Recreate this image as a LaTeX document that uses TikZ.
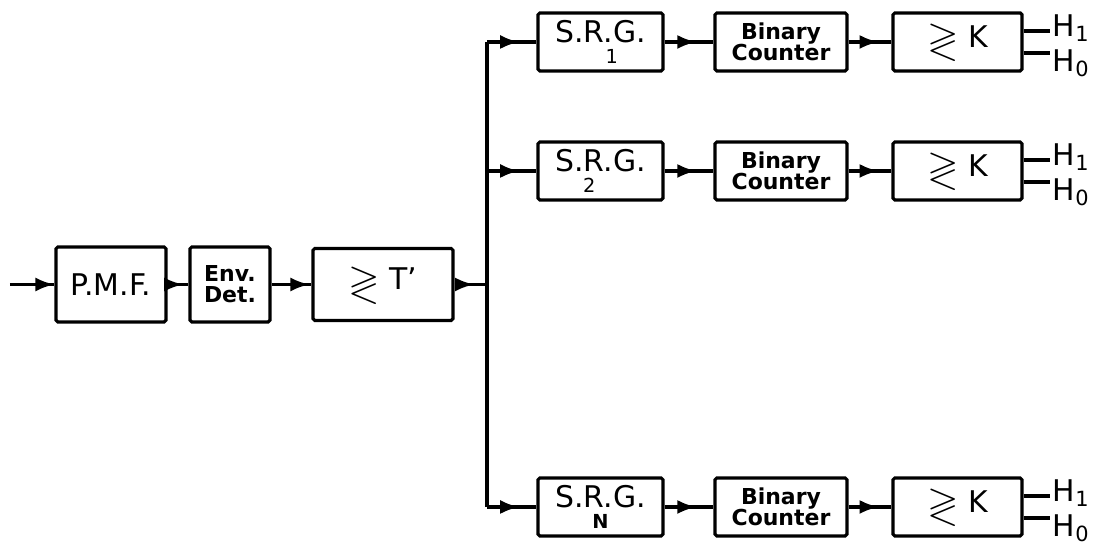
\documentclass[tikz,border=0pt]{standalone}
\usepackage{amssymb}
\usepackage{fontspec}
\setmainfont{DejaVu Sans}
\usetikzlibrary{arrows.meta,decorations.markings}

\newcommand{\cmpsym}{\raisebox{-0.15em}{\scalebox{1.35}{\(\gtrless\)}}}

\begin{document}
\begin{tikzpicture}[
  blk/.style={draw, line width=1.8pt, rounded corners=1pt, inner sep=0pt, align=center, minimum height=1.16cm},
  bigtxt/.style={font=\fontsize{17}{17}\selectfont},
  smalltxt/.style={font=\fontsize{12.5}{12}\selectfont\bfseries},
  wire/.style={line width=1.8pt},
  flow/.style={wire, postaction={decorate}, decoration={markings,
      mark=at position #1 with {\arrow{Latex[length=3.8mm,width=2.8mm]}}}},
  flow/.default=0.7]
  \useasboundingbox (0,0) rectangle (22.04,11.04);

  % receiver front end
  \node[blk, bigtxt, minimum width=2.2cm, minimum height=1.5cm] (pmf) at (2.22,5.35) {P.M.F.};
  \node[blk, smalltxt, minimum width=1.6cm, minimum height=1.5cm] (env) at (4.60,5.35) {Env.\\Det.};
  \node[blk, bigtxt, minimum width=2.8cm, minimum height=1.44cm] (thr) at (7.66,5.35) {\cmpsym\ T'};

  \coordinate (in) at (0.2,5.35);
  \coordinate (jn) at (9.74,5.35);
  \coordinate (top) at (9.74,10.20);
  \coordinate (mid) at (9.74,7.62);
  \coordinate (bot) at (9.74,0.90);

  \draw[flow=1] (in) -- (pmf);
  \draw[flow=0.75] (pmf) -- (env);
  \draw[flow=0.95] (env) -- (thr);
  \draw[flow=0.6] (thr) -- (jn);
  \draw[wire] (top) -- (bot);

  % channel 1
  \node[blk, bigtxt, minimum width=2.5cm] (srg1) at (12.01,10.20) {S.R.G.\\[-5pt]\hspace*{0.45cm}{\fontsize{11}{11}\selectfont 1}};
  \node[blk, smalltxt, minimum width=2.64cm] (bin1) at (15.62,10.20) {Binary\\Counter};
  \node[blk, bigtxt, minimum width=2.58cm] (cmp1) at (19.15,10.20) {\cmpsym\ K};

  % channel 2
  \node[blk, bigtxt, minimum width=2.5cm] (srg2) at (12.01,7.62) {S.R.G.\\[-5pt]{\fontsize{11}{11}\selectfont 2}\hspace*{0.45cm}};
  \node[blk, smalltxt, minimum width=2.64cm] (bin2) at (15.62,7.62) {Binary\\Counter};
  \node[blk, bigtxt, minimum width=2.58cm] (cmp2) at (19.15,7.62) {\cmpsym\ K};

  % channel N
  \node[blk, bigtxt, minimum width=2.5cm] (srgN) at (12.01,0.90) {S.R.G.\\[-5pt]{\fontsize{11}{11}\selectfont\bfseries N}};
  \node[blk, smalltxt, minimum width=2.64cm] (binN) at (15.62,0.90) {Binary\\Counter};
  \node[blk, bigtxt, minimum width=2.58cm] (cmpN) at (19.15,0.90) {\cmpsym\ K};

  \draw[flow=0.65] (top) -- (srg1);
  \draw[flow=0.65] (srg1) -- (bin1);
  \draw[flow=0.7] (bin1) -- (cmp1);
  \draw[flow=0.65] (mid) -- (srg2);
  \draw[flow=0.65] (srg2) -- (bin2);
  \draw[flow=0.7] (bin2) -- (cmp2);
  \draw[flow=0.65] (bot) -- (srgN);
  \draw[flow=0.65] (srgN) -- (binN);
  \draw[flow=0.7] (binN) -- (cmpN);

  % decision outputs
  \draw[wire] ([yshift=2.2mm]cmp1.east) -- ++(0.52,0) node[bigtxt, right, inner sep=1pt, yshift=0.5mm] (h11) {H\textsubscript{1}};
  \draw[wire] ([yshift=-2.2mm]cmp1.east) -- ++(0.52,0) node[bigtxt, right, inner sep=1pt, yshift=-2mm] (h10) {H\textsubscript{0}};
  \draw[wire] ([yshift=2.2mm]cmp2.east) -- ++(0.52,0) node[bigtxt, right, inner sep=1pt, yshift=0.5mm] (h21) {H\textsubscript{1}};
  \draw[wire] ([yshift=-2.2mm]cmp2.east) -- ++(0.52,0) node[bigtxt, right, inner sep=1pt, yshift=-2mm] (h20) {H\textsubscript{0}};
  \draw[wire] ([yshift=2.2mm]cmpN.east) -- ++(0.52,0) node[bigtxt, right, inner sep=1pt, yshift=0.5mm] (hN1) {H\textsubscript{1}};
  \draw[wire] ([yshift=-2.2mm]cmpN.east) -- ++(0.52,0) node[bigtxt, right, inner sep=1pt, yshift=-2mm] (hN0) {H\textsubscript{0}};
\end{tikzpicture}
\end{document}
